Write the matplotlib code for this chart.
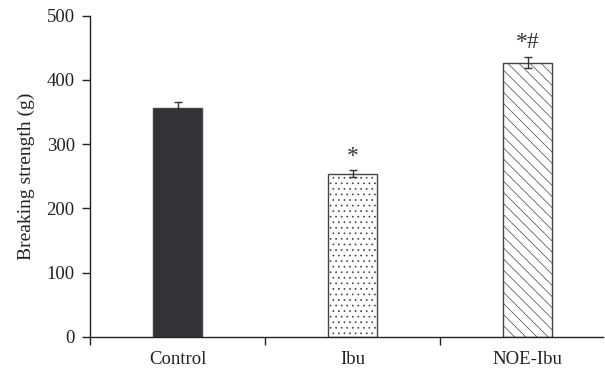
import matplotlib.pyplot as plt
import numpy as np

groups = ['Control', 'Ibu', 'NOE-Ibu']
strength = [357, 254, 427]
errors = [9, 5, 9]
marks = ['', '*', '*#']

plt.rcParams['font.family'] = 'Liberation Serif'
plt.rcParams['hatch.linewidth'] = 0.5
plt.rcParams['hatch.color'] = '#444444'

fig = plt.figure(figsize=(6.05, 3.71), dpi=100)
ax = fig.add_axes([90/605, 1-336.7/371, 513/605, (336.7-15.7)/371])

x = np.arange(len(groups))
faces = ['#333338', 'white', 'white']
hatches = [None, '...', '\\\\\\']
for i in range(len(groups)):
    ax.bar(x[i], strength[i], width=0.28, color=faces[i], edgecolor='#444444',
           linewidth=1.0, hatch=hatches[i], zorder=2)
ax.errorbar(x, strength, yerr=errors, fmt='none', ecolor='#333333',
            elinewidth=1.0, capsize=3, capthick=1.0, zorder=3)
for i in range(len(groups)):
    if marks[i]:
        ax.text(x[i], strength[i] + errors[i] + 22, marks[i], ha='center', va='center',
                fontsize=17, color='#333333')

ax.set_xlim(-0.5, 2.43)
ax.set_ylim(0, 500)
ax.set_yticks([0, 100, 200, 300, 400, 500])
ax.set_xticks(x)
ax.set_xticklabels(groups)
ax.set_xticks([-0.5, 0.5, 1.5], minor=True)
ax.tick_params(axis='x', which='major', length=0, pad=10)
ax.tick_params(axis='x', which='minor', length=6, width=1, color='#222222')
ax.tick_params(axis='y', length=6, width=1, color='#222222', pad=5)
ax.tick_params(labelsize=13.5, labelcolor='#222222')
ax.set_ylabel('Breaking strength (g)', fontsize=14, color='#222222', labelpad=8)
for s in ['top', 'right']:
    ax.spines[s].set_visible(False)
for s in ['left', 'bottom']:
    ax.spines[s].set_color('#222222')
    ax.spines[s].set_linewidth(1.0)

plt.savefig('out.png', dpi=100)
